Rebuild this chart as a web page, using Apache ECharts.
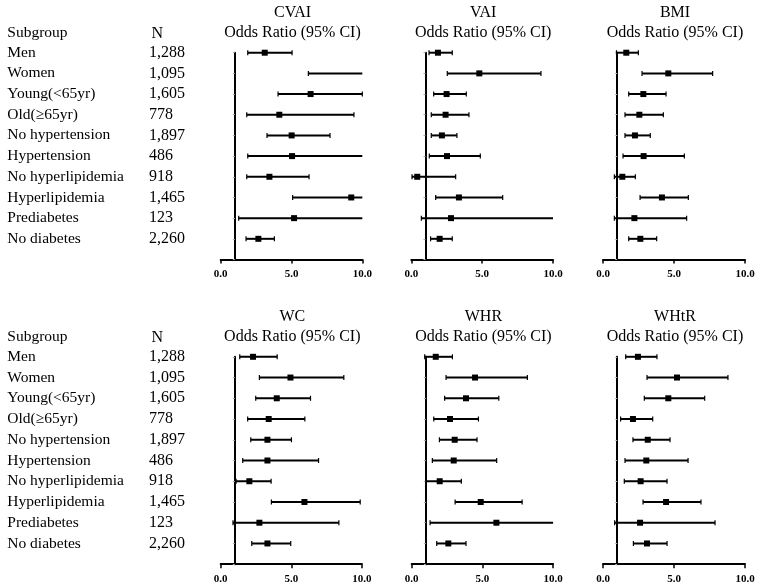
<!DOCTYPE html>
<html><head><meta charset="utf-8">
<script src="https://cdn.jsdelivr.net/npm/echarts@6/dist/echarts.min.js"></script>
<style>html,body{margin:0;padding:0;background:#fff}#c{width:760px;height:587px}</style>
</head><body><div id="c"></div>
<script>
const subgroups = ['Men','Women','Young(<65yr)','Old(≥65yr)','No hypertension','Hypertension','No hyperlipidemia','Hyperlipidemia','Prediabetes','No diabetes'];
const counts = ['1,288','1,095','1,605','778','1,897','486','918','1,465','123','2,260'];
const panelTitles = ['CVAI','VAI','BMI','WC','WHR','WHtR'];
const xTicks = [0, 5, 10];

const cvaiOR = [3.11, 10.9, 6.35, 4.14, 5.01, 5.04, 3.44, 9.22, 5.18, 2.66];
const cvaiLo = [1.91, 6.19, 4.05, 1.84, 3.27, 1.91, 1.84, 5.08, 1.27, 1.79];
const cvaiHi = [5.04, 18.8, 10.0, 9.41, 7.72, 13.0, 6.24, 16.5, 21.0, 3.79];

const vaiOR = [1.88, 4.80, 2.49, 2.42, 2.16, 2.52, 0.42, 3.36, 2.80, 2.00];
const vaiLo = [1.25, 2.54, 1.58, 1.41, 1.41, 1.27, 0.05, 1.72, 0.71, 1.36];
const vaiHi = [2.89, 9.15, 3.88, 4.07, 3.22, 4.87, 3.13, 6.45, 12.0, 2.89];

const bmiOR = [1.64, 4.60, 2.84, 2.56, 2.25, 2.86, 1.36, 4.15, 2.21, 2.63];
const bmiLo = [0.95, 2.75, 1.81, 1.55, 1.55, 1.41, 0.80, 2.61, 0.80, 1.81];
const bmiHi = [2.49, 7.72, 4.44, 4.25, 3.33, 5.73, 2.28, 6.01, 5.89, 3.78];

const wcOR = [2.29, 4.94, 3.97, 3.40, 3.31, 3.31, 2.03, 5.93, 2.74, 3.31];
const wcLo = [1.35, 2.74, 2.48, 1.91, 2.13, 1.56, 1.09, 3.59, 0.87, 2.20];
const wcHi = [4.00, 8.72, 6.36, 5.96, 5.01, 6.93, 3.57, 9.88, 8.37, 4.96];

const whrOR = [1.70, 4.48, 3.84, 2.71, 3.04, 2.97, 1.98, 4.88, 5.99, 2.59];
const whrLo = [0.92, 2.43, 2.33, 1.56, 1.96, 1.46, 1.01, 3.07, 1.30, 1.77];
const whrHi = [2.88, 8.18, 6.16, 4.72, 4.62, 6.01, 3.51, 7.81, 14.0, 3.84];

const whtrOR = [2.46, 5.21, 4.60, 2.11, 3.15, 3.05, 2.65, 4.44, 2.61, 3.10];
const whtrLo = [1.60, 3.10, 2.91, 1.24, 2.11, 1.55, 1.50, 2.82, 0.82, 2.14];
const whtrHi = [3.80, 8.80, 7.16, 3.50, 4.72, 5.99, 4.51, 6.90, 7.89, 4.51];

const panels = [
  [cvaiOR, cvaiLo, cvaiHi], [vaiOR, vaiLo, vaiHi], [bmiOR, bmiLo, bmiHi],
  [wcOR, wcLo, wcHi], [whrOR, whrLo, whrHi], [whtrOR, whtrLo, whtrHi]
];

const FONT = '"Liberation Serif","Times New Roman",serif';
const gridDefs = [
  {left: 220.7, width: 141.6, top: 52.7, height: 206.8},
  {left: 411.3, width: 141.7, top: 52.7, height: 206.8},
  {left: 603, width: 142, top: 52.7, height: 206.8},
  {left: 220.7, width: 141.2, top: 356.8, height: 207.4},
  {left: 411.7, width: 141.4, top: 356.8, height: 207.4},
  {left: 603, width: 142, top: 356.8, height: 207.4}
];

const grid = gridDefs.map(g => ({left: g.left, width: g.width, top: g.top, height: g.height, containLabel: false}));
const xAxis = gridDefs.map((g, i) => ({
  type: 'value', gridIndex: i, min: 0, max: 10, interval: 5, position: 'bottom',
  axisLine: {show: true, onZero: false, lineStyle: {color: '#000', width: 2}},
  axisTick: {show: true, length: 4, lineStyle: {color: '#000', width: 1.5}},
  axisLabel: {show: true, margin: 9, formatter: v => xTicks.includes(v) ? v.toFixed(1) : '', fontFamily: FONT, fontWeight: 'bold', fontSize: 11, color: '#000'},
  splitLine: {show: false}
}));

const yAxis = [];
const lineAxisIdx = [];
gridDefs.forEach((g, i) => {
  lineAxisIdx.push(yAxis.length);
  yAxis.push({
    type: 'value', gridIndex: i, min: 1, max: 11, interval: 1, inverse: true, position: 'left',
    offset: -g.width / 10,
    axisLine: {show: true, onZero: false, lineStyle: {color: '#000', width: 2}},
    axisTick: {show: true, length: 2, lineStyle: {color: '#aaa', width: 1}},
    axisLabel: {show: false}, splitLine: {show: false}
  });
  if (i === 0 || i === 3) {
    yAxis.push({
      type: 'value', gridIndex: i, min: 1, max: 11, interval: 1, inverse: true, position: 'left', offset: 0,
      axisLine: {show: false}, axisTick: {show: false}, splitLine: {show: false},
      axisLabel: {show: true, margin: g.left - 7.3, align: 'left', fontFamily: FONT, fontSize: 15.5, color: '#000',
        formatter: v => subgroups[v - 1] || ''}
    });
    yAxis.push({
      type: 'value', gridIndex: i, min: 1, max: 11, interval: 1, inverse: true, position: 'left', offset: 0,
      axisLine: {show: false}, axisTick: {show: false}, splitLine: {show: false},
      axisLabel: {show: true, margin: g.left - 149, align: 'left', fontFamily: FONT, fontSize: 16, color: '#000',
        formatter: v => counts[v - 1] || ''}
    });
  }
});

function renderItem(params, api) {
  const cs = params.coordSys;
  const xmin = cs.x, xmax = cs.x + cs.width;
  const row = api.value(3);
  const pOr = api.coord([api.value(0), row]);
  const pLo = api.coord([api.value(1), row]);
  const pHi = api.coord([api.value(2), row]);
  const y = pOr[1];
  const x1 = Math.max(pLo[0], xmin), x2 = Math.min(pHi[0], xmax);
  const ch = [];
  ch.push({type: 'line', shape: {x1: x1, y1: y, x2: x2, y2: y}, style: {stroke: '#000', lineWidth: 2}});
  if (pLo[0] >= xmin - 0.5) ch.push({type: 'line', shape: {x1: pLo[0], y1: y - 2.5, x2: pLo[0], y2: y + 2.5}, style: {stroke: '#000', lineWidth: 1.2}});
  if (pHi[0] <= xmax + 0.5) ch.push({type: 'line', shape: {x1: pHi[0], y1: y - 2.5, x2: pHi[0], y2: y + 2.5}, style: {stroke: '#000', lineWidth: 1.2}});
  if (pOr[0] <= xmax) ch.push({type: 'rect', shape: {x: pOr[0] - 3, y: y - 3, width: 6, height: 6}, style: {fill: '#000'}});
  return {type: 'group', children: ch};
}

const series = panels.map((p, i) => ({
  type: 'custom', xAxisIndex: i, yAxisIndex: lineAxisIdx[i], renderItem: renderItem, silent: true,
  data: p[0].map((v, k) => [v, p[1][k], p[2][k], k + 1])
}));

const graphic = [];
gridDefs.forEach((g, i) => {
  const cx = g.left + g.width / 2 + 1;
  const ty = i < 3 ? 12.5 : 316.5;
  graphic.push({type: 'text', x: cx, y: ty, style: {text: panelTitles[i], textAlign: 'center', textVerticalAlign: 'middle', font: '16px ' + FONT, fill: '#000'}});
  graphic.push({type: 'text', x: cx, y: ty + 20, style: {text: 'Odds Ratio (95% CI)', textAlign: 'center', textVerticalAlign: 'middle', font: '16px ' + FONT, fill: '#000'}});
});
[33.3, 337.3].forEach(y => {
  graphic.push({type: 'text', x: 7.3, y: y, style: {text: 'Subgroup', textAlign: 'left', textVerticalAlign: 'middle', font: '15.5px ' + FONT, fill: '#000'}});
  graphic.push({type: 'text', x: 151.5, y: y, style: {text: 'N', textAlign: 'left', textVerticalAlign: 'middle', font: '16px ' + FONT, fill: '#000'}});
});

const chart = echarts.init(document.getElementById('c'), null, {renderer: 'canvas'});
chart.setOption({animation: false, backgroundColor: '#fff', grid, xAxis, yAxis, series, graphic});
</script></body></html>
